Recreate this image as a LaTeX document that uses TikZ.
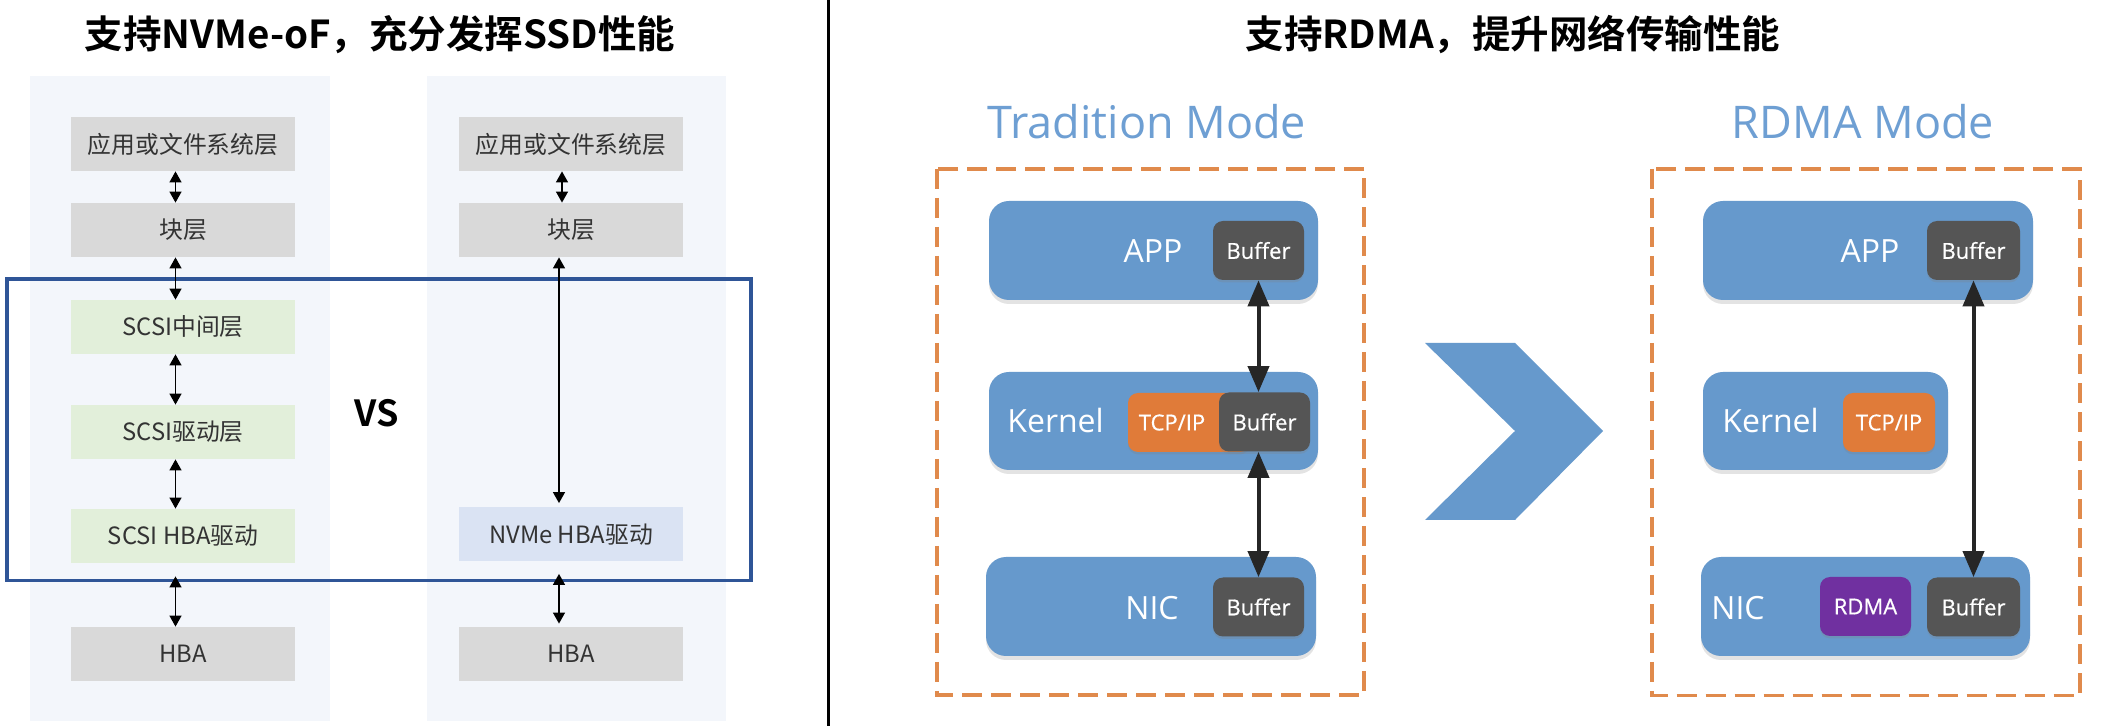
\documentclass[tikz,border=0pt]{standalone}
\usepackage{fontspec}
\newfontfamily\cjk{Noto Sans CJK SC}[BoldFont={Noto Sans CJK SC Bold}]
\newfontfamily\osans{Open Sans}
\newfontfamily\osansb{Open Sans}[FakeBold=0.6]
\usetikzlibrary{arrows.meta,shadows}
\definecolor{panelbg}{HTML}{F3F6FB}
\definecolor{graybox}{HTML}{D9D9D9}
\definecolor{greenbox}{HTML}{E2EFDA}
\definecolor{nvmebox}{HTML}{DAE3F3}
\definecolor{frameblue}{HTML}{2F5597}
\definecolor{labeltxt}{HTML}{333333}
\definecolor{modeblue}{HTML}{6699CC}
\definecolor{modetitle}{HTML}{6E9FD3}
\definecolor{dashor}{HTML}{E08A4C}
\definecolor{bufgray}{HTML}{555555}
\definecolor{tcpor}{HTML}{E07B39}
\definecolor{rdmapur}{HTML}{7030A0}
\begin{document}
\begin{tikzpicture}[x=0.5pt,y=-0.5pt,
  lbox/.style={minimum width=112pt,minimum height=27pt,inner sep=0pt,font=\cjk\fontsize{11.9}{14}\selectfont,text=labeltxt},
  grayb/.style={lbox,fill=graybox},
  greenb/.style={lbox,fill=greenbox},
  nvmeb/.style={lbox,fill=nvmebox},
  larrow/.style={{Triangle[width=6pt,length=5.5pt]}-{Triangle[width=6pt,length=5.5pt]},line width=0.65pt,black},
  bigarrow/.style={{Triangle[width=10.5pt,length=13pt]}-{Triangle[width=10.5pt,length=13pt]},line width=2pt,black!85},
  modebox/.style={fill=modeblue,rounded corners=10pt,inner sep=0pt,drop shadow={opacity=0.22,shadow xshift=0pt,shadow yshift=-2pt}},
  smallbox/.style={rounded corners=5pt,inner sep=0pt,minimum height=29.5pt,text=white,font=\osansb\fontsize{11}{13}\selectfont,drop shadow={opacity=0.25,shadow xshift=0pt,shadow yshift=-1.2pt}},
  bufbox/.style={smallbox,fill=bufgray,minimum width=45.5pt},
  modelabel/.style={inner sep=0pt,text=white,font=\osans\fontsize{16}{18}\selectfont},
  modetitlestyle/.style={inner sep=0pt,text=modetitle,font=\osans\fontsize{22.5}{26}\selectfont},
  dashframe/.style={draw=dashor,line width=1.6pt,dash pattern=on 10pt off 4.5pt},
  titlestyle/.style={inner sep=0pt,font=\cjk\bfseries\fontsize{19.25}{22}\selectfont}
]
\useasboundingbox[fill=white] (0,0) rectangle (2127,726);

% ---------- left half ----------
\node[titlestyle] (title1) at (380,34.5) {支持NVMe-oF，充分发挥SSD性能};
\fill[panelbg] (30,76) rectangle (330,721);
\fill[panelbg] (427,76) rectangle (726,721);

\node[grayb]  (L1) at (183,144) {应用或文件系统层};
\node[grayb]  (L2) at (183,230) {块层};
\node[greenb] (L3) at (183,327) {SCSI中间层};
\node[greenb] (L4) at (183,432) {SCSI驱动层};
\node[greenb] (L5) at (183,536) {SCSI HBA驱动};
\node[grayb]  (L6) at (183,654) {HBA};

\node[grayb] (R1) at (571,144) {应用或文件系统层};
\node[grayb] (R2) at (571,230) {块层};
\node[nvmeb] (R3) at (571,534.5) {NVMe HBA驱动};
\node[grayb] (R4) at (571,654) {HBA};

\draw[frameblue,line width=1.75pt] (7,279) rectangle (751,580.5);

\draw[larrow] ([xshift=-3.75pt]L1.south) -- ([xshift=-3.75pt]L2.north);
\draw[larrow] ([xshift=-3.75pt]L2.south) -- ([xshift=-3.75pt]L3.north);
\draw[larrow] ([xshift=-3.75pt]L3.south) -- ([xshift=-3.75pt]L4.north);
\draw[larrow] ([xshift=-3.75pt]L4.south) -- ([xshift=-3.75pt]L5.north);
\draw[larrow] ([xshift=-3.75pt,yshift=-6.5pt]L5.south) -- ([xshift=-3.75pt]L6.north);

\draw[larrow] ([xshift=-4.5pt]R1.south) -- ([xshift=-4.5pt]R2.north);
\draw[larrow] ([xshift=-6pt]R2.south) -- ([xshift=-6pt,yshift=2pt]R3.north);
\draw[larrow] ([xshift=-6pt,yshift=-6pt]R3.south) -- ([xshift=-6pt,yshift=1.5pt]R4.north);

\node[inner sep=0pt,font=\cjk\bfseries\fontsize{18}{20}\selectfont] (vs) at (377,413) {VS};

\draw[line width=1.5pt] (828,0) -- (828,726);

% ---------- right half ----------
\node[titlestyle] (title2) at (1513,34.5) {支持RDMA，提升网络传输性能};

\node[modetitlestyle,anchor=base] (tmode) at (1147,139) {Tradition Mode};
\node[modetitlestyle,anchor=base] (rmode) at (1863,139) {RDMA Mode};

\draw[dashframe] (937,169) rectangle (1364,695);
\draw[dashframe] (1652,169) rectangle (2080,695.5);

% traditional mode
\node[modebox,minimum width=164.5pt,minimum height=49.5pt] (tapp) at (1153.5,250.5) {};
\node[modebox,minimum width=164.5pt,minimum height=49pt] (tker) at (1153.5,421) {};
\node[modebox,minimum width=165pt,minimum height=49.5pt] (tnic) at (1151,606.5) {};

\node[modelabel,anchor=base] (tapptxt) at (1153,263) {APP};
\node[modelabel,anchor=base west] (tkertxt) at (1007,433) {Kernel};
\node[modelabel,anchor=base] (tnictxt) at (1152,620) {NIC};

\node[bufbox] (tabuf) at (1258.5,250.5) {Buffer};
\node[smallbox,fill=tcpor,minimum width=61pt] (ttcp) at (1189,422.5) {};
\node[inner sep=0pt,text=white,font=\osansb\fontsize{11}{13}\selectfont] (ttcptxt) at (1172,422.5) {TCP/IP};
\node[bufbox] (tkbuf) at (1264.5,422) {Buffer};
\node[bufbox] (tnbuf) at (1258.5,607) {Buffer};

\draw[bigarrow] (tabuf.south) -- (tabuf.south |- tkbuf.north);
\draw[bigarrow] (tabuf.south |- tkbuf.south) -- (tnbuf.north);

% chevron
\fill[modeblue] (1425,343) -- (1515,343) -- (1603,431) -- (1515,520) -- (1425,520) -- (1515,431) -- cycle;

% RDMA mode
\node[modebox,minimum width=165pt,minimum height=49.5pt] (rapp) at (1868,250.5) {};
\node[modebox,minimum width=122.5pt,minimum height=49pt] (rker) at (1825.5,421) {};
\node[modebox,minimum width=164.5pt,minimum height=49.5pt] (rnic) at (1865.5,606.5) {};

\node[modelabel,anchor=base] (rapptxt) at (1870,263) {APP};
\node[modelabel,anchor=base west] (rkertxt) at (1722,433) {Kernel};
\node[modelabel,anchor=base west] (rnictxt) at (1711,620) {NIC};

\node[bufbox,minimum width=46.5pt] (rabuf) at (1973.5,250.5) {Buffer};
\node[smallbox,fill=tcpor,minimum width=46pt] (rtcp) at (1889,422.5) {TCP/IP};
\node[smallbox,fill=rdmapur,minimum width=45.5pt] (rrdma) at (1865.5,606.5) {RDMA};
\node[bufbox,minimum width=46.5pt] (rnbuf) at (1973.5,607) {Buffer};

\draw[bigarrow] (rabuf.south) -- (rnbuf.north);
\end{tikzpicture}
\end{document}
